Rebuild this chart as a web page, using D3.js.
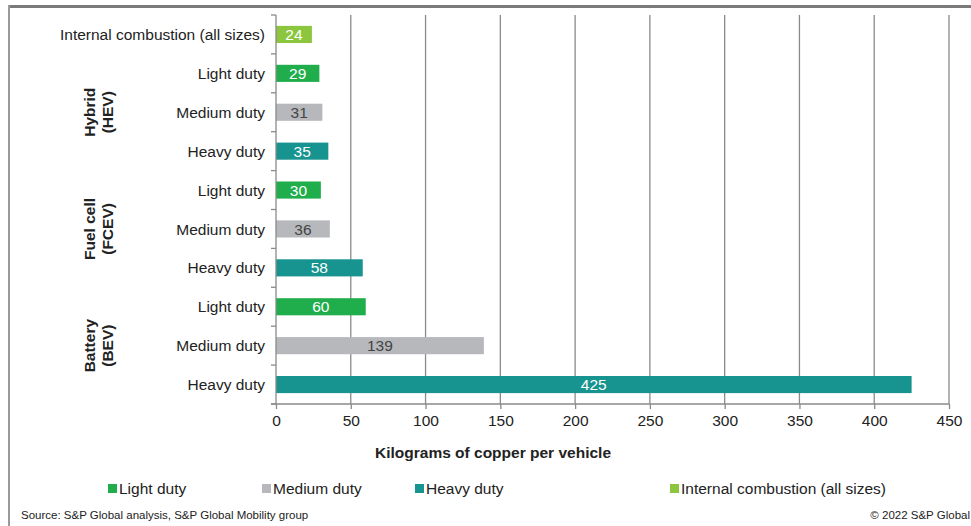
<!DOCTYPE html>
<html>
<head>
<meta charset="utf-8">
<script src="https://cdn.jsdelivr.net/npm/d3@7"></script>
<style>
  body { margin: 0; background: #fff; }
  svg { font-family: "Liberation Sans", Arial, sans-serif; }
</style>
</head>
<body>
<div id="chart"></div>
<script>
// rows top to bottom
var rowKeys = ["ice", "hev-l", "hev-m", "hev-h", "fcev-l", "fcev-m", "fcev-h", "bev-l", "bev-m", "bev-h"]
var rowLabels = ["Internal combustion (all sizes)", "Light duty", "Medium duty", "Heavy duty",
  "Light duty", "Medium duty", "Heavy duty", "Light duty", "Medium duty", "Heavy duty"]
var rowTypes = ["ice", "light", "medium", "heavy", "light", "medium", "heavy", "light", "medium", "heavy"]
var values = [24, 29, 31, 35, 30, 36, 58, 60, 139, 425]

var groups = [
  { name: ["Hybrid", "(HEV)"], rows: ["hev-l", "hev-h"] },
  { name: ["Fuel cell", "(FCEV)"], rows: ["fcev-l", "fcev-h"] },
  { name: ["Battery", "(BEV)"], rows: ["bev-l", "bev-h"] }
]

var legendKeys = ["light", "medium", "heavy", "ice"]
var legendLabels = ["Light duty", "Medium duty", "Heavy duty", "Internal combustion (all sizes)"]
var xTicks = [0, 50, 100, 150, 200, 250, 300, 350, 400, 450]

var colors = { light: "#20ad4b", medium: "#b6b8bb", heavy: "#17948f", ice: "#8cc63f" }
var labelColors = { light: "#fff", medium: "#444", heavy: "#fff", ice: "#fff" }

var W = 971, H = 526
var margin = { top: 15, left: 276, right: 22, bottom: 122 }
var fs = 15.5

var svg = d3.select("#chart").append("svg")
  .attr("width", W)
  .attr("height", H)

// frame
svg.append("rect").attr("x", 8).attr("y", 5).attr("width", W - 8).attr("height", 3).attr("fill", "#7a7b78")
svg.append("rect").attr("x", 8).attr("y", 5).attr("width", 2).attr("height", H - 5).attr("fill", "#999b9a")

var x = d3.scaleLinear().domain([0, 450]).range([margin.left, W - margin.right])
var y = d3.scaleBand().domain(rowKeys).range([margin.top, H - margin.bottom]).paddingInner(0.56).paddingOuter(0.28)
var yEdge = d3.scaleLinear().domain([0, rowKeys.length]).range([margin.top, H - margin.bottom])

// gridlines
svg.append("g").selectAll("line")
  .data(xTicks.slice(1))
  .enter().append("line")
  .attr("x1", function(d) { return x(d) })
  .attr("x2", function(d) { return x(d) })
  .attr("y1", margin.top)
  .attr("y2", H - margin.bottom)
  .attr("stroke", "#8a8a8a")
  .attr("stroke-width", 1.3)

// bars
svg.append("g").selectAll("rect")
  .data(values)
  .enter().append("rect")
  .attr("x", x(0))
  .attr("y", function(d, i) { return y(rowKeys[i]) })
  .attr("width", function(d) { return x(d) - x(0) })
  .attr("height", y.bandwidth())
  .attr("fill", function(d, i) { return colors[rowTypes[i]] })

svg.append("g").selectAll("text")
  .data(values)
  .enter().append("text")
  .attr("x", function(d) { return (x(d) + x(0)) / 2 })
  .attr("y", function(d, i) { return y(rowKeys[i]) + y.bandwidth() / 2 })
  .attr("dy", "0.36em")
  .attr("text-anchor", "middle")
  .attr("font-size", fs)
  .attr("fill", function(d, i) { return labelColors[rowTypes[i]] })
  .text(function(d) { return d })

// y axis with ticks on row edges
var yAxisG = svg.append("g")
yAxisG.append("line")
  .attr("x1", x(0)).attr("x2", x(0))
  .attr("y1", margin.top).attr("y2", H - margin.bottom)
  .attr("stroke", "#8a8a8a").attr("stroke-width", 1.3)
yAxisG.selectAll(".edge")
  .data(d3.range(rowKeys.length + 1))
  .enter().append("line")
  .attr("x1", x(0) - 5).attr("x2", x(0))
  .attr("y1", function(d) { return yEdge(d) })
  .attr("y2", function(d) { return yEdge(d) })
  .attr("stroke", "#8a8a8a").attr("stroke-width", 1.3)
yAxisG.selectAll("text")
  .data(rowLabels)
  .enter().append("text")
  .attr("x", x(0) - 11)
  .attr("y", function(d, i) { return y(rowKeys[i]) + y.bandwidth() / 2 })
  .attr("dy", "0.36em")
  .attr("text-anchor", "end")
  .attr("font-size", fs)
  .attr("fill", "#222")
  .text(function(d) { return d })

// group labels
groups.forEach(function(g) {
  var cy = (y(g.rows[0]) + y(g.rows[1]) + y.bandwidth()) / 2
  var t = svg.append("text")
    .attr("transform", "translate(99," + cy + ") rotate(-90)")
    .attr("text-anchor", "middle")
    .attr("font-size", fs)
    .attr("font-weight", "bold")
    .attr("fill", "#222")
  t.append("tspan").attr("x", 0).attr("dy", "-0.25em").text(g.name[0])
  t.append("tspan").attr("x", 0).attr("dy", "1.15em").text(g.name[1])
})

// x axis
var xAxis = d3.axisBottom(x).tickValues(xTicks).tickSize(5).tickSizeOuter(0).tickPadding(6)
var xAxisG = svg.append("g")
  .attr("transform", "translate(0," + (H - margin.bottom) + ")")
  .call(xAxis)
xAxisG.select(".domain").attr("stroke", "#8a8a8a").attr("stroke-width", 1.3)
  .attr("d", "M" + (x(0) - 5) + ",0H" + x(450))
xAxisG.selectAll(".tick line").attr("stroke", "#8a8a8a").attr("stroke-width", 1.3)
xAxisG.selectAll(".tick text").attr("font-size", fs).attr("fill", "#222")
  .attr("font-family", "Liberation Sans, Arial, sans-serif")

svg.append("text")
  .attr("x", 493).attr("y", 458)
  .attr("text-anchor", "middle")
  .attr("font-size", fs)
  .attr("font-weight", "bold")
  .attr("fill", "#222")
  .text("Kilograms of copper per vehicle")

// legend
var legendX = [108, 262, 415, 670]
var legend = svg.append("g").selectAll("g")
  .data(legendKeys)
  .enter().append("g")
  .attr("transform", function(d, i) { return "translate(" + legendX[i] + ",488)" })
legend.append("rect")
  .attr("x", 0).attr("y", -4).attr("width", 9).attr("height", 9)
  .attr("fill", function(d) { return colors[d] })
legend.append("text")
  .attr("x", 11).attr("y", 0)
  .attr("dy", "0.36em")
  .attr("font-size", fs)
  .attr("fill", "#222")
  .text(function(d, i) { return legendLabels[i] })

svg.append("text")
  .attr("x", 21).attr("y", 519)
  .attr("font-size", 11.5)
  .attr("fill", "#222")
  .text("Source: S&P Global analysis, S&P Global Mobility group")

svg.append("text")
  .attr("x", 970).attr("y", 519)
  .attr("text-anchor", "end")
  .attr("font-size", 11.5)
  .attr("fill", "#222")
  .text("© 2022 S&P Global")
</script>
</body>
</html>
